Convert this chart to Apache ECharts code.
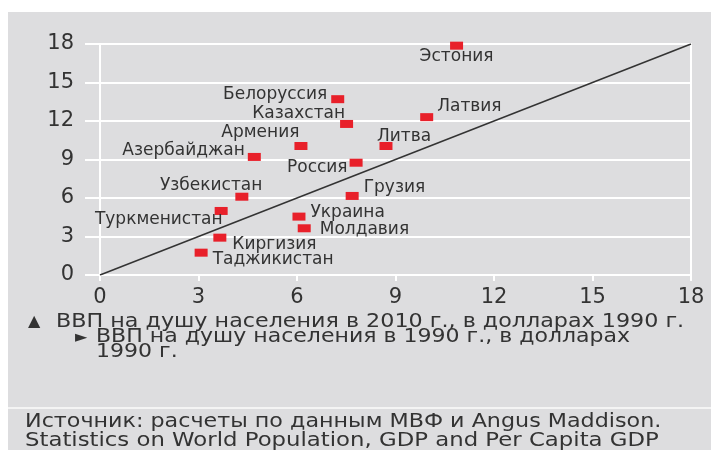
<!DOCTYPE html>
<html>
<head>
<meta charset="utf-8">
<script src="https://cdn.jsdelivr.net/npm/echarts@6/dist/echarts.min.js"></script>
<style>
html,body{margin:0;padding:0;background:#fff;}
#bg{position:absolute;left:8px;top:12px;width:703px;height:438px;background:#dddddf;}
#chart{position:absolute;left:0;top:0;width:711px;height:450px;}
</style>
</head>
<body>
<div id="bg"></div>
<div id="chart"></div>
<script>
// Data: GDP per capita, thousands of 1990 dollars
const countries = ['Эстония','Белоруссия','Казахстан','Латвия','Армения','Литва','Азербайджан','Россия','Узбекистан','Грузия','Туркменистан','Украина','Молдавия','Киргизия','Таджикистан'];
const gdp1990 = [10.86, 7.24, 7.51, 9.95, 6.12, 8.71, 4.70, 7.80, 4.32, 7.68, 3.69, 6.06, 6.22, 3.65, 3.08];
const gdp2010 = [17.87, 13.70, 11.77, 12.30, 10.05, 10.05, 9.20, 8.75, 6.10, 6.16, 4.99, 4.55, 3.64, 2.91, 1.74];
const parityLine = [[0, 0], [18, 18]];
const axisTicks = [0, 3, 6, 9, 12, 15, 18];
const legendLine1 = 'ВВП на душу населения в 2010 г., в долларах 1990 г.';
const legendLine2 = 'ВВП на душу населения в 1990 г., в долларах';
const legendLine3 = '1990 г.';
const sourceLine1 = 'Источник: расчеты по данным МВФ и Angus Maddison.';
const sourceLine2 = 'Statistics on World Population, GDP and Per Capita GDP';

// Label placement (styling only)
const labelStyle = {
  'Эстония':      {position: 'inside', offset: [0, 11]},
  'Белоруссия':   {position: 'left', distance: 4, offset: [0, -5]},
  'Казахстан':    {position: 'left', distance: 5, offset: [10, -10]},
  'Латвия':       {position: 'right', distance: 5, offset: [-1, -11]},
  'Армения':      {position: 'left', distance: 5, offset: [10, -13]},
  'Литва':        {position: 'inside', offset: [18, -9]},
  'Азербайджан':  {position: 'left', distance: 3, offset: [0, -6]},
  'Россия':       {position: 'left', distance: 5, offset: [3, 5]},
  'Узбекистан':   {position: 'left', distance: 5, offset: [32, -11]},
  'Грузия':       {position: 'right', distance: 5, offset: [0, -8]},
  'Туркменистан': {position: 'left', distance: 5, offset: [13, 9]},
  'Украина':      {position: 'right', distance: 5, offset: [0, -4]},
  'Молдавия':     {position: 'right', distance: 5, offset: [4, 1]},
  'Киргизия':     {position: 'right', distance: 5, offset: [1, 7]},
  'Таджикистан':  {position: 'right', distance: 5, offset: [0, 7]}
};

const FONT = 'DejaVu Sans';
const TXT = '#333333';

const scatterData = countries.map((c, i) => ({
  name: c,
  value: [gdp1990[i], gdp2010[i]],
  label: Object.assign({show: true, formatter: c, color: TXT, fontSize: 17, fontFamily: FONT}, labelStyle[c])
}));

function txt(s, x, y, size, sx) {
  return {type: 'text', x: x, y: y, scaleX: sx || 1, scaleY: 1,
    style: {text: s, x: 0, y: 0, fill: TXT, font: size + 'px ' + FONT, align: 'left', verticalAlign: 'middle'}};
}

const chart = echarts.init(document.getElementById('chart'), null, {renderer: 'canvas'});
chart.setOption({
  backgroundColor: 'transparent',
  animation: false,
  textStyle: {fontFamily: FONT},
  grid: {left: 100, right: 20, top: 44, bottom: 175, containLabel: false},
  xAxis: {
    type: 'value', min: axisTicks[0], max: axisTicks[axisTicks.length - 1], interval: 3,
    axisLine: {show: true, lineStyle: {color: '#ffffff', width: 2}},
    axisTick: {show: true, length: 6, lineStyle: {color: '#ffffff', width: 2}},
    axisLabel: {color: TXT, fontSize: 21, fontFamily: FONT, margin: 12},
    splitLine: {show: false}
  },
  yAxis: [{
    type: 'value', min: axisTicks[0], max: axisTicks[axisTicks.length - 1], interval: 3,
    axisLine: {show: true, lineStyle: {color: '#ffffff', width: 2}},
    axisTick: {show: true, length: 15, lineStyle: {color: '#ffffff', width: 2}},
    axisLabel: {color: TXT, fontSize: 21, fontFamily: FONT, margin: 26},
    splitLine: {show: true, lineStyle: {color: '#ffffff', width: 2}}
  }, {
    type: 'value', position: 'right', min: axisTicks[0], max: axisTicks[axisTicks.length - 1], interval: 3,
    axisLine: {show: true, lineStyle: {color: '#ffffff', width: 2}},
    axisTick: {show: false}, axisLabel: {show: false}, splitLine: {show: false}
  }],
  series: [{
    type: 'line',
    data: parityLine,
    symbol: 'none',
    lineStyle: {color: '#333333', width: 1.5},
    z: 2,
    silent: true
  }, {
    type: 'scatter',
    data: scatterData,
    symbol: 'rect',
    symbolSize: [13, 8],
    itemStyle: {color: '#e8202a', opacity: 1},
    z: 3
  }],
  graphic: [
    txt('▲', 28, 322, 16, 1),
    txt(legendLine1, 56, 322, 19, 1.17),
    txt('►', 75, 338, 16, 1),
    txt(legendLine2, 96, 337, 19, 1.16),
    txt(legendLine3, 96, 352, 19, 1.16),
    {type: 'rect', shape: {x: 8, y: 407, width: 703, height: 2}, style: {fill: '#f4f4f4'}},
    txt(sourceLine1, 25, 422, 19, 1.17),
    txt(sourceLine2, 25, 441, 19, 1.2)
  ]
});
</script>
</body>
</html>
